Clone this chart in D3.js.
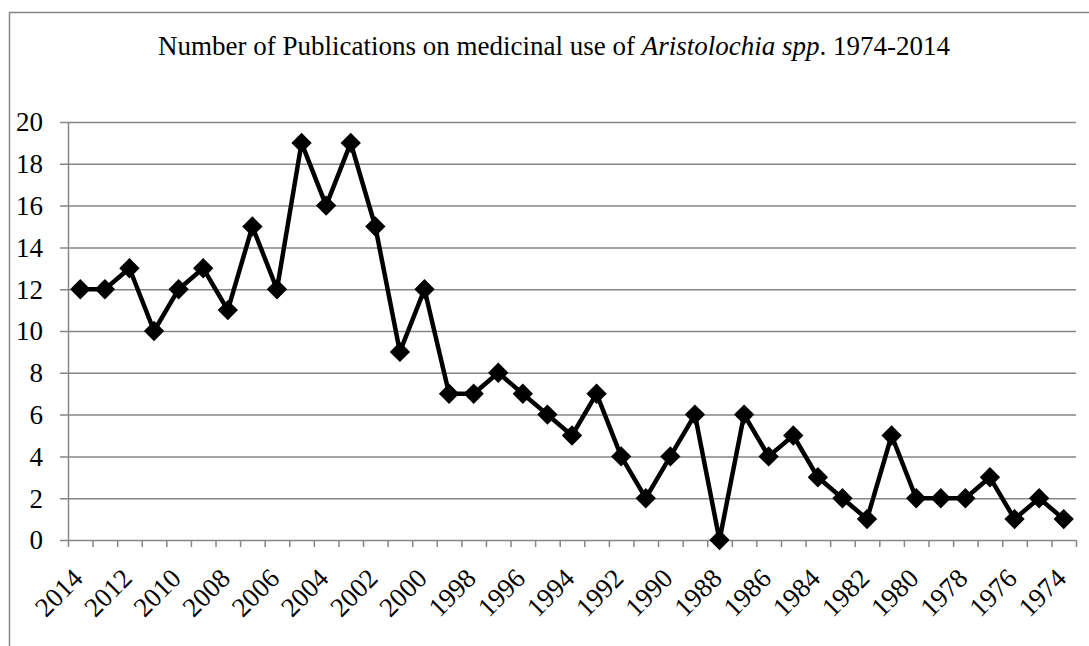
<!DOCTYPE html>
<html>
<head>
<meta charset="utf-8">
<script src="https://cdn.jsdelivr.net/npm/d3@7"></script>
<style>
  body { margin: 0; background: #fff; }
  svg { display: block; font-family: "Liberation Serif", "Times New Roman", serif; }
</style>
</head>
<body>
<svg id="chart" width="1089" height="646"></svg>
<script>
const years = d3.range(2014, 1973, -1)
const counts = [12, 12, 13, 10, 12, 13, 11, 15, 12, 19, 16, 19, 15, 9, 12, 7, 7, 8, 7, 6, 5, 7, 4, 2, 4, 6, 0, 6, 4, 5, 3, 2, 1, 5, 2, 2, 2, 3, 1, 2, 1]
const yTicks = d3.range(0, 21, 2)

const data = years.map((y, i) => ({ year: y, count: counts[i] }))

const svg = d3.select('svg#chart')

// outer frame (cut off at right and bottom like the picture)
svg.append('rect')
  .attr('x', 9.5)
  .attr('y', 12.5)
  .attr('width', 1100)
  .attr('height', 700)
  .attr('fill', 'none')
  .attr('stroke', '#868686')
  .attr('stroke-width', 1.5)

const plotLeft = 68, plotRight = 1076, plotTop = 122, plotBottom = 540

const xScale = d3
  .scaleBand()
  .domain(years)
  .range([plotLeft, plotRight])

const yScale = d3
  .scaleLinear()
  .domain([0, 20])
  .range([plotBottom, plotTop])

// gridlines
svg.append('g')
  .selectAll('line')
  .data(yTicks)
  .enter()
  .append('line')
  .attr('x1', plotLeft - 8)
  .attr('x2', plotRight)
  .attr('y1', d => yScale(d) + 0.5)
  .attr('y2', d => yScale(d) + 0.5)
  .attr('stroke', '#868686')
  .attr('stroke-width', 1.5)

// y axis line
svg.append('line')
  .attr('x1', plotLeft + 0.5)
  .attr('x2', plotLeft + 0.5)
  .attr('y1', plotTop)
  .attr('y2', plotBottom)
  .attr('stroke', '#868686')
  .attr('stroke-width', 1.5)

// y labels
svg.append('g')
  .selectAll('text')
  .data(yTicks)
  .enter()
  .append('text')
  .attr('x', 43)
  .attr('y', d => yScale(d))
  .attr('dy', '0.35em')
  .attr('text-anchor', 'end')
  .attr('font-size', '27px')
  .text(d => d)

// x ticks at category boundaries
const bounds = years.map(y => xScale(y)).concat([plotRight])
svg.append('g')
  .selectAll('line')
  .data(bounds)
  .enter()
  .append('line')
  .attr('x1', d => d + 0.5)
  .attr('x2', d => d + 0.5)
  .attr('y1', plotBottom)
  .attr('y2', plotBottom + 7)
  .attr('stroke', '#868686')
  .attr('stroke-width', 1.5)

// x labels, every second year
svg.append('g')
  .selectAll('text')
  .data(years.filter((y, i) => i % 2 === 0))
  .enter()
  .append('text')
  .attr('transform', d => `translate(${xScale(d) + xScale.bandwidth() / 2 + 4},${plotBottom + 40}) rotate(-45)`)
  .attr('text-anchor', 'end')
  .attr('font-size', '27px')
  .text(d => d)

// line
const line = d3.line()
  .x(d => xScale(d.year) + xScale.bandwidth() / 2)
  .y(d => yScale(d.count))

svg.append('path')
  .datum(data)
  .attr('d', line)
  .attr('fill', 'none')
  .attr('stroke', '#000')
  .attr('stroke-width', 4.5)
  .attr('stroke-linejoin', 'round')

// diamond markers
svg.append('g')
  .selectAll('path')
  .data(data)
  .enter()
  .append('path')
  .attr('d', d3.symbol().type(d3.symbolDiamond2).size(264))
  .attr('transform', d => `translate(${xScale(d.year) + xScale.bandwidth() / 2},${yScale(d.count)})`)
  .attr('fill', '#000')

// title
const title = svg.append('text')
  .attr('x', 554)
  .attr('y', 55)
  .attr('text-anchor', 'middle')
  .attr('font-size', '27px')
title.append('tspan').text('Number of Publications on medicinal use of ')
title.append('tspan').attr('font-style', 'italic').text('Aristolochia spp')
title.append('tspan').text('. 1974-2014')
</script>
</body>
</html>
